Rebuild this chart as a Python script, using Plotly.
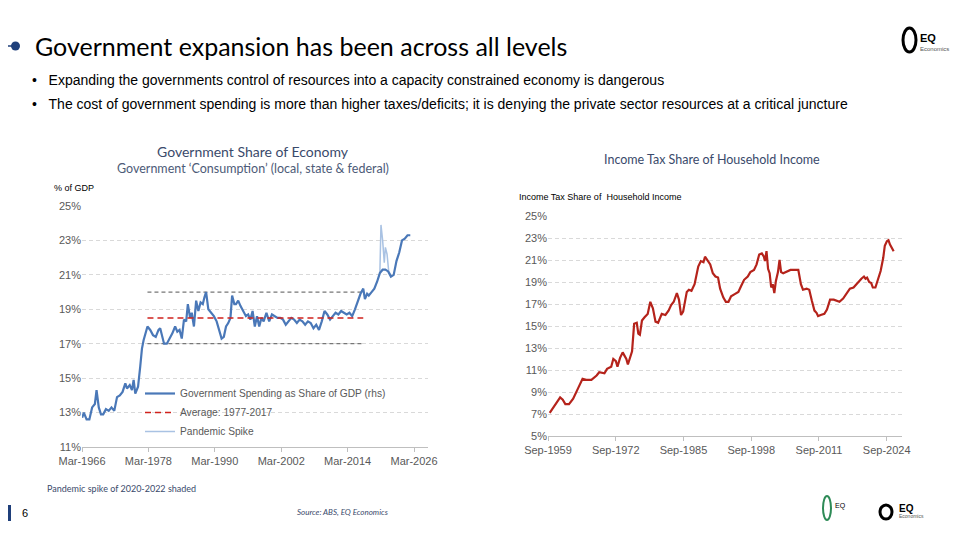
import plotly.graph_objects as go

# Left chart: Government spending share of GDP (%)
gov_x = [1966.2,1966.5,1967,1967.5,1968,1968.5,1968.8,1969.2,1969.6,1970,1970.5,1971,1971.5,1972,1972.5,1973,1973.5,1974,1974.3,1974.8,1975.2,1975.5,1975.8,1976.3,1976.7,1977,1977.3,1977.6,1978,1978.5,1979,1979.5,1980,1980.3,1980.7,1981,1981.5,1982,1982.5,1983,1983.4,1983.8,1984.2,1984.6,1985,1985.3,1985.7,1986,1986.4,1986.8,1987.2,1987.6,1988,1988.3,1988.6,1989,1989.5,1990,1990.5,1991,1991.4,1991.8,1992.2,1992.6,1993,1993.3,1993.7,1994,1994.4,1994.8,1995.3,1995.8,1996.2,1996.6,1997,1997.4,1997.8,1998.2,1998.6,1999,1999.5,2000,2000.5,2001,2001.5,2002,2002.5,2003,2003.5,2004,2004.5,2005,2005.5,2006,2006.5,2007,2007.5,2008,2008.5,2009,2009.5,2010,2010.5,2011,2011.5,2012,2012.5,2013,2013.5,2014,2014.5,2015,2015.5,2016,2016.5,2017,2017.3,2017.7,2018,2018.5,2019,2019.5,2020,2020.5,2021,2021.5,2022,2022.5,2023,2023.5,2024,2024.5,2025,2025.5]
gov_y = [12.7,13.0,12.6,12.6,13.3,13.5,14.3,13.3,12.9,12.9,13.2,13.1,13.3,13.1,13.9,14.0,14.2,14.7,14.4,14.6,14.3,14.9,14.1,14.5,15.7,16.7,17.2,17.5,18.0,17.8,17.5,17.4,17.8,17.9,17.4,17.0,17.0,17.3,17.6,18.0,17.7,17.8,17.3,18.4,18.3,19.3,18.5,18.8,18.0,19.5,18.9,19.4,19.3,19.7,20.0,19.0,18.8,18.6,18.3,17.8,17.3,17.4,18.0,18.2,18.5,19.8,19.3,19.3,19.5,19.2,18.9,18.6,18.7,18.4,18.9,18.0,18.6,18.0,18.5,18.3,18.8,18.3,18.7,18.6,18.5,18.5,18.4,18.1,18.3,18.5,18.4,18.2,18.4,18.3,18.1,18.3,18.2,17.9,18.1,17.8,18.3,18.9,18.7,18.4,18.6,18.8,18.7,18.9,18.8,18.7,18.8,18.6,19.0,19.5,19.9,20.2,19.6,19.9,19.8,20.0,20.2,20.6,21.1,21.3,21.3,21.2,20.9,21.0,21.8,22.3,23.0,23.1,23.3,23.3]
spike_x = [2020,2020.2,2020.5,2020.8,2021,2021.3,2021.6,2022]
spike_y = [21.1,23.9,23.0,21.7,22.6,22.2,21.2,21.0]
ref_x = [1978,2017]
avg_y = [18.5,18.5]
hi_y = [20,20]
lo_y = [17,17]
left_tickvals = [1966.17,1978.17,1990.17,2002.17,2014.17,2026.17]
left_ticktext = ["Mar-1966","Mar-1978","Mar-1990","Mar-2002","Mar-2014","Mar-2026"]

# Right chart: income tax share of household income (%)
tax_x = [1960,1961,1962,1962.5,1963,1963.7,1964.5,1965.5,1966.3,1967,1968,1969,1969.5,1970.5,1971,1971.8,1972.2,1972.7,1973,1973.5,1974,1974.7,1975,1975.8,1976.2,1976.7,1977,1977.3,1977.7,1978.2,1978.8,1979.3,1979.8,1980.3,1980.8,1981.5,1982.2,1982.8,1983.3,1983.8,1984.4,1984.8,1985.2,1985.6,1986.3,1986.7,1987.2,1987.8,1988.5,1989,1989.5,1989.8,1990.3,1990.8,1991.3,1991.8,1992.3,1992.7,1993.3,1993.8,1994.3,1994.8,1995.5,1996.2,1996.8,1997.3,1998,1998.5,1999.2,1999.7,2000.2,2000.7,2001.1,2001.3,2001.6,2001.9,2002.2,2002.5,2002.8,2003.1,2003.4,2003.8,2004.1,2004.4,2004.8,2005.4,2006.2,2007,2007.7,2008.2,2008.6,2009.3,2009.8,2010.3,2010.8,2011.2,2011.5,2012,2012.7,2013.2,2013.8,2014.5,2015,2015.6,2016.3,2017,2017.6,2018.3,2018.8,2019.3,2019.8,2020.3,2020.6,2020.9,2021.3,2021.7,2022,2022.5,2023,2023.5,2024,2024.3,2024.7,2025,2025.3,2025.7,2026]
tax_y = [7.1,7.8,8.5,8.3,7.9,7.9,8.4,9.4,10.2,10.1,10.1,10.5,10.8,10.7,11.1,11.3,12.0,11.8,11.3,12.1,12.6,12.0,11.5,12.7,15.2,15.3,14.3,14.2,15.5,15.8,16.1,17.2,16.6,15.4,15.3,16.1,16.0,16.4,16.9,17.2,18.0,17.4,16.0,16.3,18.1,18.3,18.2,18.8,20.4,20.9,20.8,21.3,20.9,20.6,19.8,19.5,19.4,18.4,17.6,17.2,17.2,17.7,17.9,18.1,18.7,19.2,19.5,19.9,20.1,20.6,21.5,21.6,21.3,20.9,21.8,20.2,19.8,18.5,18.8,18.0,19.1,19.9,21.0,19.9,19.8,19.9,20.1,20.1,20.1,18.8,18.3,18.4,18.3,17.3,16.4,16.2,15.9,16.0,16.1,16.5,17.4,17.4,17.3,17.2,17.5,18.0,18.4,18.5,18.8,19.1,19.3,19.5,19.3,19.4,19.0,18.9,18.5,18.5,19.2,20.0,21.2,22.3,22.7,22.8,22.4,22.0,21.8]
right_tickvals = [1959.67,1972.67,1985.67,1998.67,2011.67,2024.67]
right_ticktext = ["Sep-1959","Sep-1972","Sep-1985","Sep-1998","Sep-2011","Sep-2024"]

OFF = 8  # page body margin offset
def fx(px): return (px - OFF) / 960
def fy(py): return 1 - (py - OFF) / 540

BLUE = "#4a78b8"
fig = go.Figure()
for yy in (hi_y, lo_y):
    fig.add_trace(go.Scatter(x=ref_x, y=yy, mode="lines", line=dict(color="#777777", width=1.2, dash="4px,3px"),
                             showlegend=False, hoverinfo="skip"))
fig.add_trace(go.Scatter(x=spike_x, y=spike_y, mode="lines", line=dict(color="#a9c2e3", width=1.5), showlegend=False))
fig.add_trace(go.Scatter(x=gov_x, y=gov_y, mode="lines", line=dict(color=BLUE, width=2.2),
                         name="Government Spending as Share of GDP (rhs)"))
fig.add_trace(go.Scatter(x=ref_x, y=avg_y, mode="lines", line=dict(color="#d0221c", width=1.5, dash="6px,4px"),
                         name="Average: 1977-2017"))
fig.add_trace(go.Scatter(x=[None], y=[None], mode="lines", line=dict(color="#a9c2e3", width=1.5), name="Pandemic Spike"))
fig.add_trace(go.Scatter(x=tax_x, y=tax_y, mode="lines", line=dict(color="#b5231b", width=2.2),
                         xaxis="x2", yaxis="y2", showlegend=False))

tickf = dict(family="Liberation Sans, Arial", size=11, color="#595959")
grid = dict(showgrid=True, gridcolor="#d9d9d9", griddash="4px,3px", zeroline=False, tickfont=tickf,
            automargin=False, ticksuffix="%", dtick=2)
xcommon = dict(showgrid=False, zeroline=False, showline=True, linecolor="#bfbfbf", ticks="outside",
               ticklen=4, tickcolor="#bfbfbf", tickfont=tickf, automargin=False)
fig.update_layout(
    width=960, height=540, margin=dict(l=0, r=0, t=0, b=0, autoexpand=False),
    paper_bgcolor="white", plot_bgcolor="white",
    font=dict(family="Liberation Sans, Arial"),
    xaxis=dict(domain=[fx(82), fx(428)], range=[1966.17, 2028.7], tickvals=left_tickvals, ticktext=left_ticktext, **xcommon),
    yaxis=dict(domain=[fy(447), fy(206)], range=[11, 25], tick0=11, **grid),
    xaxis2=dict(domain=[fx(548), fx(902)], range=[1959.67, 2027.6], tickvals=right_tickvals, ticktext=right_ticktext,
                anchor="y2", **xcommon),
    yaxis2=dict(domain=[fy(436), fy(216)], range=[5, 25], tick0=5, anchor="x2", **grid),
    legend=dict(x=fx(140), y=fy(379), xanchor="left", yanchor="top", bgcolor="rgba(0,0,0,0)",
                font=dict(size=10.2, color="#595959"), tracegroupgap=0, itemwidth=30),
    showlegend=True,
)

def txt(x, y, s, size, color="black", family="Lato", xanchor="left", **kw):
    fig.add_annotation(x=fx(x), y=fy(y), xref="paper", yref="paper", text=s, showarrow=False,
                       xanchor=xanchor, yanchor="middle", font=dict(size=size, color=color, family=family), **kw)

# header
fig.add_shape(type="line", xref="paper", yref="paper", x0=fx(8), x1=fx(15), y0=fy(46), y1=fy(46),
              line=dict(color="#1f3f7a", width=1.5))
fig.add_shape(type="circle", xref="paper", yref="paper", x0=fx(11), x1=fx(20), y0=fy(50.5), y1=fy(41.5),
              fillcolor="#1f3f7a", line=dict(width=0))
txt(33, 46, "Government expansion has been across all levels", 25)
txt(30, 80, "•&nbsp;&nbsp;&nbsp;Expanding the governments control of resources into a capacity constrained economy is dangerous", 14, family="Liberation Sans, Arial")
txt(30, 104, "•&nbsp;&nbsp;&nbsp;The cost of government spending is more than higher taxes/deficits; it is denying the private sector resources at a critical juncture", 14, family="Liberation Sans, Arial")
txt(253, 152, "Government Share of Economy", 14, color="#3a4a6b", xanchor="center")
txt(253, 168, "Government ‘Consumption’ (local, state & federal)", 12.5, color="#4d5b78", xanchor="center")
txt(712, 160, "Income Tax Share of Household Income", 12.5, color="#3a4a6b", xanchor="center")
txt(52, 188, "% of GDP", 9, family="Liberation Sans, Arial")
txt(517, 197, "Income Tax Share of  Household Income", 9, family="Liberation Sans, Arial")
# logo top right
fig.add_shape(type="circle", xref="paper", yref="paper", x0=fx(903), x1=fx(916), y0=fy(52), y1=fy(28),
              line=dict(color="black", width=3))
txt(918, 38, "<b>EQ</b>", 11, family="Liberation Sans, Arial")
txt(918, 49, "Economics", 6, color="#555555", family="Liberation Sans, Arial")
# footer
txt(45, 488, "Pandemic spike of 2020-2022 shaded", 9, color="#3a4a6b")
fig.add_shape(type="rect", xref="paper", yref="paper", x0=fx(8), x1=fx(11), y0=fy(521), y1=fy(505),
              fillcolor="#1f3f7a", line=dict(width=0))
txt(20, 513, "6", 11, family="Liberation Sans, Arial")
txt(343, 512, "<i>Source: ABS, EQ Economics</i>", 8, color="#3a4a6b", xanchor="center")
fig.add_shape(type="circle", xref="paper", yref="paper", x0=fx(880), x1=fx(892), y0=fy(519), y1=fy(505),
              line=dict(color="black", width=3))
txt(897, 508, "<b>EQ</b>", 10, family="Liberation Sans, Arial")
txt(897, 516, "Economics", 5, color="#555555", family="Liberation Sans, Arial")
fig.add_shape(type="circle", xref="paper", yref="paper", x0=fx(823), x1=fx(831), y0=fy(520), y1=fy(496),
              line=dict(color="#2e8b57", width=2))
txt(833, 506, "EQ", 7, family="Liberation Sans, Arial")

fig.write_html("out.html")
